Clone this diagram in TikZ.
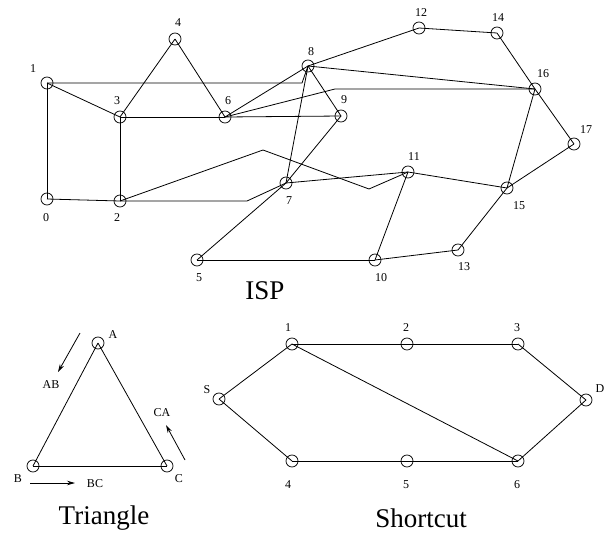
\documentclass[tikz,border=0pt]{standalone}
\usepackage{fontspec}
\setmainfont{Liberation Serif}
\usetikzlibrary{arrows.meta}

\tikzset{
  rtr/.style={circle,draw,line width=0.75pt,minimum size=12pt,inner sep=0pt},
  lbl/.style={font=\fontsize{12}{14}\selectfont,inner sep=0pt},
  ttl/.style={font=\fontsize{27}{32}\selectfont,inner sep=0pt},
  lnk/.style={line width=0.8pt},
  dir/.style={line width=0.8pt,-{Stealth[length=8pt,width=4.5pt]}},
}

\begin{document}
\begin{tikzpicture}[x=1pt,y=-1pt]
\useasboundingbox (0,0) rectangle (605,533);

% ISP
\node[rtr] (i0) at (47,199) {};
\node[rtr] (i1) at (47,83) {};
\node[rtr] (i2) at (120,201) {};
\node[rtr] (i3) at (120,117) {};
\node[rtr] (i4) at (175,39) {};
\node[rtr] (i5) at (197,260) {};
\node[rtr] (i6) at (225,117) {};
\node[rtr] (i7) at (286,183) {};
\node[rtr] (i8) at (308,66) {};
\node[rtr] (i9) at (341,116) {};
\node[rtr] (i10) at (375,260) {};
\node[rtr] (i11) at (408,172) {};
\node[rtr] (i12) at (419,28) {};
\node[rtr] (i13) at (458,250) {};
\node[rtr] (i14) at (497,33) {};
\node[rtr] (i15) at (507,188) {};
\node[rtr] (i16) at (535,89) {};
\node[rtr] (i17) at (574,144) {};

\node[lbl] (l0) at (46,218) {0};
\node[lbl] (l1) at (33,69) {1};
\node[lbl] (l2) at (117,218) {2};
\node[lbl] (l3) at (117,101) {3};
\node[lbl] (l4) at (178,23) {4};
\node[lbl] (l5) at (199,278) {5};
\node[lbl] (l6) at (228,101) {6};
\node[lbl] (l7) at (289,201) {7};
\node[lbl] (l8) at (311,52) {8};
\node[lbl] (l9) at (344,100) {9};
\node[lbl] (l10) at (381,278) {10};
\node[lbl] (l11) at (414,157) {11};
\node[lbl] (l12) at (421,13) {12};
\node[lbl] (l13) at (464,267) {13};
\node[lbl] (l14) at (498,18) {14};
\node[lbl] (l15) at (519,206) {15};
\node[lbl] (l16) at (543,74) {16};
\node[lbl] (l17) at (586,130) {17};

\coordinate (k18) at (302,83);
\coordinate (k616) at (335,89);
\coordinate (k27) at (247,201);
\coordinate (k211a) at (263,150);
\coordinate (k211b) at (369,189);

\draw[lnk] (i1.center) -- (i0.center);
\draw[lnk] (i0.center) -- (i2.center);
\draw[lnk] (i1.center) -- (i3.center);
\draw[lnk] (i3.center) -- (i2.center);
\draw[lnk] (i3.center) -- (i4.center);
\draw[lnk] (i4.center) -- (i6.center);
\draw[lnk] (i3.center) -- (i6.center);
\draw[lnk] (i6.center) -- (i9.center);
\draw[lnk] (i1.center) -- (k18) -- (i8.center);
\draw[lnk] (i6.center) -- (i8.center);
\draw[lnk] (i6.center) -- (k616) -- (i16.center);
\draw[lnk] (i8.center) -- (i9.center);
\draw[lnk] (i8.center) -- (i7.center);
\draw[lnk] (i8.center) -- (i12.center);
\draw[lnk] (i8.center) -- (i16.center);
\draw[lnk] (i9.center) -- (i7.center);
\draw[lnk] (i7.center) -- (i5.center);
\draw[lnk] (i7.center) -- (i11.center);
\draw[lnk] (i2.center) -- (k27) -- (i7.center);
\draw[lnk] (i2.center) -- (k211a) -- (k211b) -- (i11.center);
\draw[lnk] (i5.center) -- (i10.center);
\draw[lnk] (i10.center) -- (i11.center);
\draw[lnk] (i10.center) -- (i13.center);
\draw[lnk] (i13.center) -- (i15.center);
\draw[lnk] (i11.center) -- (i15.center);
\draw[lnk] (i15.center) -- (i16.center);
\draw[lnk] (i15.center) -- (i17.center);
\draw[lnk] (i16.center) -- (i17.center);
\draw[lnk] (i12.center) -- (i14.center);
\draw[lnk] (i14.center) -- (i16.center);

\node[ttl] (isp) at (265,291) {ISP};

% Triangle
\node[rtr] (tA) at (98,343) {};
\node[rtr] (tB) at (33,466) {};
\node[rtr] (tC) at (167,466) {};
\node[lbl] (lA) at (113,335) {A};
\node[lbl] (lB) at (18,479) {B};
\node[lbl] (lC) at (179,479) {C};
\draw[lnk] (tA.center) -- (tB.center);
\draw[lnk] (tB.center) -- (tC.center);
\draw[lnk] (tC.center) -- (tA.center);

\coordinate (abS) at (80,333);
\coordinate (abE) at (58,372);
\coordinate (bcS) at (30,483);
\coordinate (bcE) at (75,483);
\coordinate (caS) at (185,460);
\coordinate (caE) at (166,425);
\draw[dir] (abS) -- (abE);
\draw[dir] (bcS) -- (bcE);
\draw[dir] (caS) -- (caE);
\node[lbl] (lAB) at (51,385) {AB};
\node[lbl] (lBC) at (95,484) {BC};
\node[lbl] (lCA) at (162,413) {CA};

\node[ttl] (tri) at (104,518) {Triangle};

% Shortcut
\node[rtr] (sS) at (219,399) {};
\node[rtr] (s1) at (292,344) {};
\node[rtr] (s2) at (407,344) {};
\node[rtr] (s3) at (518,344) {};
\node[rtr] (sD) at (586,400) {};
\node[rtr] (s4) at (292,461) {};
\node[rtr] (s5) at (407,461) {};
\node[rtr] (s6) at (518,461) {};
\node[lbl] (lS) at (207,390) {S};
\node[lbl] (ls1) at (288,328) {1};
\node[lbl] (ls2) at (406,328) {2};
\node[lbl] (ls3) at (517,328) {3};
\node[lbl] (lD) at (600,389) {D};
\node[lbl] (ls4) at (288,485) {4};
\node[lbl] (ls5) at (406,485) {5};
\node[lbl] (ls6) at (517,485) {6};

\draw[lnk] (sS.center) -- (s1.center);
\draw[lnk] (s1.center) -- (s2.center);
\draw[lnk] (s2.center) -- (s3.center);
\draw[lnk] (s3.center) -- (sD.center);
\draw[lnk] (sS.center) -- (s4.center);
\draw[lnk] (s4.center) -- (s5.center);
\draw[lnk] (s5.center) -- (s6.center);
\draw[lnk] (s6.center) -- (sD.center);
\draw[lnk] (s1.center) -- (s6.center);

\node[ttl] (sc) at (421,518) {Shortcut};

\end{tikzpicture}
\end{document}
